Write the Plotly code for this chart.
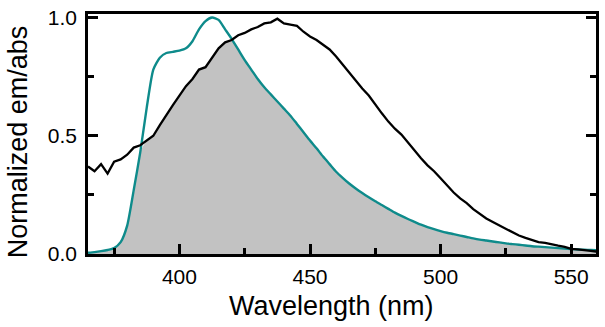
import numpy as np
import plotly.graph_objects as go

wavelength = [365, 367.5, 370, 372.5, 375, 377.5, 380, 382.5, 385, 387.5,
              390, 392.5, 395, 397.5, 400, 402.5, 405, 407.5, 410, 412.5,
              415, 417.5, 420, 422.5, 425, 427.5, 430, 432.5, 435, 437.5,
              440, 442.5, 445, 447.5, 450, 452.5, 455, 457.5, 460, 462.5,
              465, 467.5, 470, 472.5, 475, 477.5, 480, 482.5, 485, 487.5,
              490, 492.5, 495, 497.5, 500, 502.5, 505, 507.5, 510, 512.5,
              515, 517.5, 520, 522.5, 525, 527.5, 530, 532.5, 535, 537.5,
              540, 542.5, 545, 547.5, 550, 552.5, 555, 557.5, 560]

abs_teal = [0.005, 0.008, 0.012, 0.017, 0.025, 0.05, 0.12, 0.27, 0.43, 0.62,
            0.78, 0.83, 0.85, 0.855, 0.86, 0.87, 0.90, 0.95, 0.985, 1.0,
            0.99, 0.95, 0.91, 0.865, 0.82, 0.78, 0.74, 0.705, 0.675, 0.645,
            0.615, 0.585, 0.55, 0.515, 0.48, 0.447, 0.412, 0.38, 0.348, 0.322,
            0.298, 0.277, 0.258, 0.24, 0.223, 0.207, 0.191, 0.175, 0.161, 0.148,
            0.136, 0.124, 0.114, 0.105, 0.097, 0.09, 0.084, 0.078, 0.072, 0.066,
            0.061, 0.057, 0.053, 0.049, 0.045, 0.042, 0.039, 0.036, 0.033, 0.031,
            0.029, 0.027, 0.025, 0.023, 0.021, 0.019, 0.018, 0.017, 0.016]

em_black = [0.37, 0.35, 0.38, 0.34, 0.39, 0.40, 0.42, 0.45, 0.46, 0.48,
            0.50, 0.545, 0.59, 0.63, 0.67, 0.71, 0.74, 0.78, 0.79, 0.83,
            0.87, 0.895, 0.905, 0.925, 0.935, 0.95, 0.96, 0.975, 0.98, 0.995,
            0.975, 0.97, 0.965, 0.94, 0.92, 0.905, 0.885, 0.865, 0.835, 0.80,
            0.77, 0.735, 0.70, 0.67, 0.63, 0.595, 0.56, 0.53, 0.505, 0.47,
            0.44, 0.405, 0.375, 0.35, 0.32, 0.29, 0.26, 0.235, 0.215, 0.19,
            0.17, 0.15, 0.135, 0.12, 0.108, 0.09, 0.078, 0.068, 0.058, 0.05,
            0.047, 0.04, 0.035, 0.03, 0.022, 0.02, 0.015, 0.013, 0.01]

x_ticks = [400, 450, 500, 550]
y_ticks = [0.0, 0.5, 1.0]
x_title = "Wavelength (nm)"
y_title = "Normalized em/abs"

overlap = np.minimum(np.array(abs_teal), np.array(em_black))

TEAL = "#0E8B8B"
FONT = "Liberation Sans, Arial, sans-serif"

fig = go.Figure()
fig.add_trace(go.Scatter(x=wavelength, y=overlap, mode="lines",
                         line=dict(width=0, color="rgba(0,0,0,0)",
                                   shape="spline", smoothing=0.6),
                         fill="tozeroy", fillcolor="#C2C2C2",
                         hoverinfo="skip", showlegend=False))
fig.add_trace(go.Scatter(x=wavelength, y=abs_teal, mode="lines",
                         line=dict(color=TEAL, width=2.4, shape="spline",
                                   smoothing=0.6),
                         showlegend=False))
fig.add_trace(go.Scatter(x=wavelength, y=em_black, mode="lines",
                         line=dict(color="black", width=2.3), showlegend=False))

axis_common = dict(showgrid=False, zeroline=False, showline=True,
                   linecolor="black", linewidth=2.5,
                   ticks="inside", ticklen=10, tickwidth=2.5, tickcolor="black",
                   tickfont=dict(family=FONT, size=21, color="black"))

fig.update_xaxes(range=[365, 559.5], tickvals=x_ticks, mirror=True,
                 minor=dict(ticks="inside", dtick=25, tick0=375, ticklen=6,
                            tickwidth=2.5, tickcolor="black"),
                 ticklabelstandoff=2,
                 **axis_common)
fig.update_yaxes(range=[0, 1.015], tickvals=y_ticks, tickformat=".1f",
                 mirror="ticks",
                 minor=dict(ticks="inside", dtick=0.25, tick0=0, ticklen=6,
                            tickwidth=2.5, tickcolor="black"),
                 ticklabelstandoff=4,
                 **axis_common)

fig.add_annotation(text=x_title, xref="paper", yref="paper",
                   x=0.4795, y=-0.215, xanchor="center", yanchor="middle",
                   showarrow=False,
                   font=dict(family=FONT, size=27, color="black"))
fig.add_annotation(text=y_title, xref="paper", yref="paper",
                   x=-0.137, y=0.467, xanchor="center", yanchor="middle",
                   textangle=-90, showarrow=False,
                   font=dict(family=FONT, size=27, color="black"))

fig.update_layout(width=605, height=327,
                  margin=dict(l=88, r=6, t=12, b=73),
                  plot_bgcolor="white", paper_bgcolor="white")

fig.write_html("out.html")
